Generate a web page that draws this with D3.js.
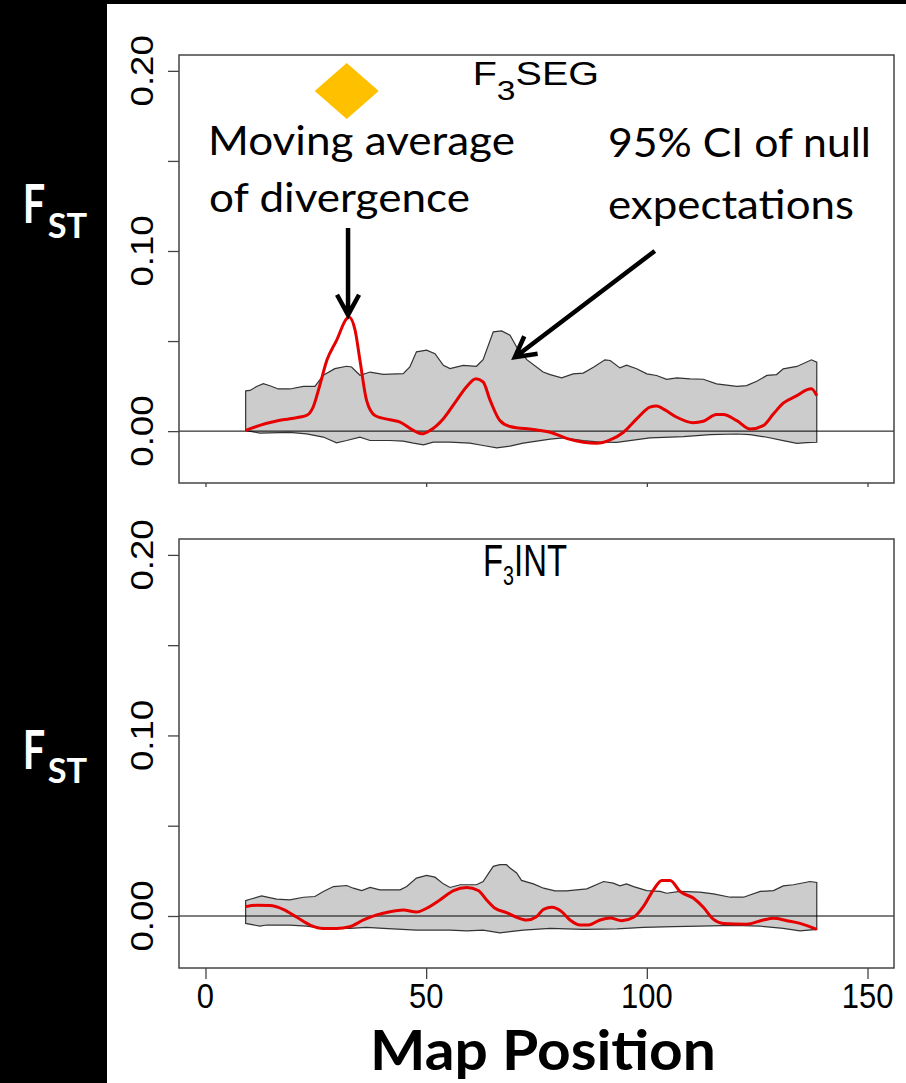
<!DOCTYPE html>
<html>
<head>
<meta charset="utf-8">
<script src="https://cdn.jsdelivr.net/npm/d3@7"></script>
<style>
  html, body { margin: 0; padding: 0; background: #000; }
  svg { display: block; }
</style>
</head>
<body>
<svg id="chart"></svg>
<script>
// values: [map position, FST]
const segUpper = [[9.1,0.0223],[10.1,0.0226],[11.6,0.0248],[13.1,0.0263],[14.6,0.0252],[16.5,0.0234],[19.1,0.0234],[22.2,0.0248],[24.8,0.0248],[26.7,0.031],[29.3,0.0347],[32.0,0.036],[33.1,0.0356],[35.0,0.031],[37.3,0.0328],[40.3,0.0315],[44.8,0.0319],[46.3,0.0356],[47.8,0.044],[50.1,0.0449],[52.0,0.043],[53.9,0.0365],[55.4,0.0347],[58.4,0.0365],[61.4,0.036],[62.9,0.0397],[65.2,0.0551],[67.1,0.0556],[69.0,0.0532],[70.5,0.0467],[72.8,0.0397],[76.5,0.0328],[78.1,0.0314],[80.7,0.0296],[83.3,0.0318],[85.6,0.0322],[87.9,0.0355],[90.5,0.0396],[91.7,0.0392],[93.9,0.0351],[95.4,0.0366],[97.7,0.0346],[100.0,0.0318],[102.2,0.0309],[104.5,0.0287],[106.8,0.0296],[109.8,0.029],[112.8,0.0288],[115.8,0.0262],[120.4,0.0248],[122.6,0.0253],[124.9,0.0277],[127.2,0.0309],[129.4,0.0314],[130.9,0.0346],[134.0,0.0359],[137.3,0.0396],[138.5,0.0383]]
const segLower = [[9.1,0.0004],[12.3,-0.0011],[19.1,-0.0007],[22.9,-0.0015],[26.7,-0.0033],[29.7,-0.0065],[32.0,-0.0052],[35.0,-0.0033],[37.3,-0.0052],[41.8,-0.0052],[44.8,-0.0056],[47.1,-0.0067],[49.4,-0.0076],[51.6,-0.0061],[55.4,-0.0061],[59.9,-0.0067],[62.9,-0.008],[66.0,-0.0093],[69.0,-0.0083],[72.0,-0.0067],[78.1,-0.0044],[81.1,-0.0037],[85.6,-0.0053],[89.4,-0.0061],[93.2,-0.0062],[100.7,-0.0038],[108.3,-0.0031],[114.3,-0.0019],[120.4,-0.0016],[123.4,-0.0019],[127.2,-0.0034],[130.9,-0.0053],[134.0,-0.0068],[136.2,-0.0064],[138.5,-0.0062]]
const segAvg = [[9.1,0.0004],[12.3,0.0032],[16.1,0.0056],[19.1,0.0069],[22.9,0.0087],[24.4,0.0134],[25.9,0.0254],[27.5,0.0393],[29.7,0.0504],[32.0,0.0625],[32.5,0.0634],[33.9,0.056],[35.0,0.0393],[36.5,0.0171],[38.4,0.0087],[41.8,0.0063],[44.1,0.005],[47.1,0.0004],[49.0,-0.0015],[50.9,0.0004],[53.9,0.0069],[56.9,0.0171],[59.2,0.0248],[61.3,0.0291],[62.9,0.0273],[64.5,0.0171],[66.7,0.0059],[69.0,0.0026],[74.3,0.0009],[78.1,-0.0006],[81.8,-0.004],[85.6,-0.0062],[88.6,-0.0068],[91.7,-0.0049],[94.7,-0.0006],[97.7,0.0068],[100.7,0.0133],[102.2,0.014],[104.1,0.0118],[106.8,0.0077],[110.5,0.0047],[112.8,0.0055],[115.8,0.0092],[117.3,0.0092],[120.4,0.0058],[123.4,0.0012],[126.4,0.0031],[128.7,0.0096],[130.9,0.0155],[134.0,0.0197],[136.2,0.0229],[137.3,0.0235],[138.5,0.0197]]

const intUpper = [[9.1,0.0085],[10.1,0.0093],[12.7,0.0111],[16.1,0.0093],[19.1,0.0089],[22.2,0.0104],[24.8,0.0108],[26.7,0.0136],[29.0,0.0163],[32.0,0.0169],[33.5,0.0154],[35.4,0.0141],[37.3,0.0158],[39.5,0.0145],[44.1,0.0145],[45.6,0.0163],[47.8,0.021],[50.1,0.0225],[52.0,0.0215],[53.9,0.0178],[55.4,0.0158],[57.7,0.0173],[61.4,0.0173],[62.9,0.0191],[65.2,0.0275],[66.7,0.0284],[68.2,0.0284],[69.0,0.0266],[70.5,0.0238],[71.6,0.0197],[74.3,0.0178],[76.6,0.0154],[79.2,0.0139],[81.8,0.0139],[86.4,0.015],[90.2,0.0191],[92.4,0.0182],[93.9,0.0167],[95.4,0.0178],[97.0,0.0163],[100.0,0.0141],[103.0,0.0136],[104.5,0.0126],[107.5,0.0136],[112.0,0.0132],[115.1,0.0123],[118.9,0.0104],[121.9,0.0104],[125.7,0.0136],[128.7,0.0141],[130.9,0.0167],[133.2,0.0173],[137.0,0.0191],[138.5,0.0186]]
const intLower = [[9.1,-0.0041],[12.3,-0.0056],[13.9,-0.005],[19.1,-0.005],[22.9,-0.0056],[26.7,-0.0069],[32.7,-0.0069],[36.5,-0.0063],[40.3,-0.0069],[47.8,-0.0078],[55.4,-0.0078],[59.2,-0.0082],[62.9,-0.0078],[66.7,-0.0093],[69.0,-0.0087],[72.0,-0.0078],[78.1,-0.0069],[85.6,-0.0074],[93.2,-0.0071],[99.2,-0.0063],[106.0,-0.0059],[112.0,-0.0056],[119.6,-0.0052],[125.7,-0.0056],[130.9,-0.0069],[134.7,-0.0082],[138.5,-0.0074]]
const intAvg = [[9.1,0.0052],[11.6,0.0059],[14.6,0.0058],[17.6,0.0037],[20.7,-0.0007],[23.7,-0.005],[26.7,-0.0069],[29.7,-0.0069],[32.7,-0.0059],[35.8,-0.0022],[38.8,0.0006],[41.8,0.0024],[44.8,0.0033],[47.8,0.0022],[50.1,0.0043],[53.1,0.0089],[56.2,0.0141],[59.2,0.0158],[61.8,0.0141],[63.7,0.0089],[65.6,0.0043],[68.2,0.0019],[70.5,-0.0007],[72.8,-0.0022],[75.0,-0.0004],[76.6,0.0037],[78.5,0.0048],[80.7,0.0024],[82.6,-0.0022],[84.9,-0.005],[86.8,-0.005],[89.4,-0.0022],[91.7,-0.0011],[94.3,-0.0026],[97.0,-0.0007],[99.2,0.0052],[101.5,0.0145],[103.4,0.0197],[105.3,0.0197],[107.5,0.0136],[110.6,0.0098],[112.8,0.0048],[115.1,-0.0019],[117.3,-0.0041],[122.6,-0.0045],[126.4,-0.0022],[128.7,-0.0013],[131.7,-0.0026],[134.7,-0.0041],[138.5,-0.0074]]

const xTicks = [0, 50, 100, 150]
const yTicks = [0, 0.05, 0.10, 0.15, 0.20]
const yLabels = [0, 0.10, 0.20]

// annotation anchors, in the top panel's data units
const peakMarker = [32.0, 0.1888]
const avgArrow = [[32.3, 0.1127], [32.3, 0.0645]]
const ciArrow = [[101.8, 0.1000], [70.1, 0.041]]

const width = 906
const height = 1083
const svg = d3.select("#chart").attr("width", width).attr("height", height)

svg.append("rect").attr("x", 107).attr("y", 4)
    .attr("width", width - 107).attr("height", height - 4).attr("fill", "#fff")

const left = 179, right = 894
const xScale = d3.scaleLinear().domain([-6, 156]).range([left, right])

function fitText(text, x, y, w, sy = 1) {
    let natural = text.node().getComputedTextLength()
    text.attr("transform", `translate(${x},${y}) scale(${w / natural},${sy})`)
}

function drawPanel(cfg) {
    let yScale = d3.scaleLinear().domain([-0.0288, 0.2088]).range([cfg.bottom, cfg.top])
    let g = svg.append("g")

    // 95% CI band: upper edge forward, lower edge back
    let band = cfg.upper.concat(cfg.lower.slice().reverse())
    let line = d3.line().x(d => xScale(d[0])).y(d => yScale(d[1]))
    g.append("path")
        .attr("d", line(band) + "Z")
        .attr("fill", "#cbcccb")
        .attr("stroke", "#333")
        .attr("stroke-width", 1.2)

    g.append("line")
        .attr("x1", left).attr("x2", right)
        .attr("y1", yScale(0)).attr("y2", yScale(0))
        .attr("stroke", "#000").attr("stroke-width", 1)

    let avgLine = d3.line().curve(d3.curveMonotoneX)
        .x(d => xScale(d[0])).y(d => yScale(d[1]))
    g.append("path")
        .attr("d", avgLine(cfg.avg))
        .attr("fill", "none")
        .attr("stroke", "#e60000")
        .attr("stroke-width", 3)
        .attr("stroke-linejoin", "round")

    g.append("rect")
        .attr("x", left).attr("y", cfg.top)
        .attr("width", right - left).attr("height", cfg.bottom - cfg.top)
        .attr("fill", "none").attr("stroke", "#444").attr("stroke-width", 1.5)

    let axisY = d3.axisLeft(yScale).tickValues(yTicks).tickSize(11).tickFormat("")
    let ay = g.append("g").attr("transform", `translate(${left},0)`).call(axisY)
    ay.select(".domain").remove()
    ay.selectAll("line").attr("stroke", "#444").attr("stroke-width", 1.3)

    g.selectAll(".ylab").data(yLabels).enter().append("text")
        .attr("class", "ylab")
        .attr("transform", d => `translate(153,${yScale(d)}) scale(1,1.2) rotate(-90)`)
        .attr("text-anchor", "middle")
        .attr("font-family", "Liberation Sans, Arial")
        .attr("font-size", 30.5)
        .text(d => d.toFixed(2))

    let axisX = d3.axisBottom(xScale).tickValues(xTicks).tickSize(cfg.tickLen).tickFormat("")
    let ax = g.append("g").attr("transform", `translate(0,${cfg.bottom})`).call(axisX)
    ax.select(".domain").remove()
    ax.selectAll("line").attr("stroke", "#444").attr("stroke-width", 1.3)

    if (cfg.xLabels) {
        g.selectAll(".xlab").data(xTicks).enter().append("text")
            .attr("class", "xlab")
            .attr("transform", d => `translate(${xScale(d)},${cfg.bottom + 40}) scale(1,1.15)`)
            .attr("text-anchor", "middle")
            .attr("font-family", "Liberation Sans, Arial")
            .attr("font-size", 31)
            .text(d => d)
    }

    // panel title F[3]XXX
    let t = g.append("text")
        .attr("font-family", "Liberation Sans, Arial")
        .attr("font-size", cfg.titleSize)
    t.append("tspan").text("F")
    t.append("tspan").attr("font-size", cfg.titleSize * cfg.subScale).attr("dy", cfg.subDrop).text("3")
    t.append("tspan").attr("dy", -cfg.subDrop).text(cfg.name)
    fitText(t, cfg.titleX, cfg.titleY, cfg.titleW)

    // F_ST label in the black margin
    let f = svg.append("text")
        .attr("font-family", "Lato").attr("font-weight", "bold")
        .attr("font-size", 54).attr("fill", "#fff").text("F")
    fitText(f, 22.7, cfg.fstY, 22.5)
    let st = svg.append("text")
        .attr("font-family", "Lato").attr("font-weight", "bold")
        .attr("font-size", 35).attr("fill", "#fff").text("ST")
    fitText(st, 47.7, cfg.fstY + cfg.stDrop, 39.5)

    return yScale
}

let ySeg = drawPanel({
    name: "SEG", upper: segUpper, lower: segLower, avg: segAvg,
    top: 55, bottom: 483, tickLen: 4, xLabels: false,
    titleSize: 32.5, subScale: 0.85, subDrop: 15, titleX: 472.7, titleY: 85, titleW: 126.3,
    fstY: 222.7, stDrop: 15.3
})

drawPanel({
    name: "INT", upper: intUpper, lower: intLower, avg: intAvg,
    top: 539, bottom: 968, tickLen: 11, xLabels: true,
    titleSize: 45, subScale: 0.6, subDrop: 9, titleX: 483, titleY: 576, titleW: 84,
    fstY: 769.3, stDrop: 14
})

// annotations on the top panel
let [mx, my] = [xScale(peakMarker[0]), ySeg(peakMarker[1])]
svg.append("path")
    .attr("d", `M${mx},${my - 28}L${mx + 32},${my}L${mx},${my + 28}L${mx - 32},${my}Z`)
    .attr("fill", "#ffc000")

function drawArrow(pts) {
    let [x1, y1] = [xScale(pts[0][0]), ySeg(pts[0][1])]
    let [x2, y2] = [xScale(pts[1][0]), ySeg(pts[1][1])]
    let ang = Math.atan2(y2 - y1, x2 - x1)
    let len = 23, spread = 0.5
    let a1 = [x2 - len * Math.cos(ang - spread), y2 - len * Math.sin(ang - spread)]
    let a2 = [x2 - len * Math.cos(ang + spread), y2 - len * Math.sin(ang + spread)]
    svg.append("path")
        .attr("d", `M${x1},${y1}L${x2},${y2}M${a1}L${x2},${y2}L${a2}`)
        .attr("fill", "none").attr("stroke", "#000")
        .attr("stroke-width", 4.5).attr("stroke-linejoin", "miter")
}
drawArrow(avgArrow)
drawArrow(ciArrow)

const notes = [
    { text: "Moving average", x: 208, y: 155, w: 307 },
    { text: "of divergence", x: 209, y: 211.7, w: 261 },
    { text: "95% CI of null", x: 608, y: 156.7, w: 263 },
    { text: "expectations", x: 608, y: 219, w: 246 }
]
notes.forEach(n => {
    let t = svg.append("text")
        .attr("font-family", "Lato").attr("font-size", 40).attr("fill", "#000")
        .text(n.text)
    fitText(t, n.x, n.y, n.w)
})

let mp = svg.append("text")
    .attr("font-family", "Lato").attr("font-weight", "bold")
    .attr("font-size", 56).attr("fill", "#000").text("Map Position")
fitText(mp, 370, 1070, 346)
</script>
</body>
</html>
